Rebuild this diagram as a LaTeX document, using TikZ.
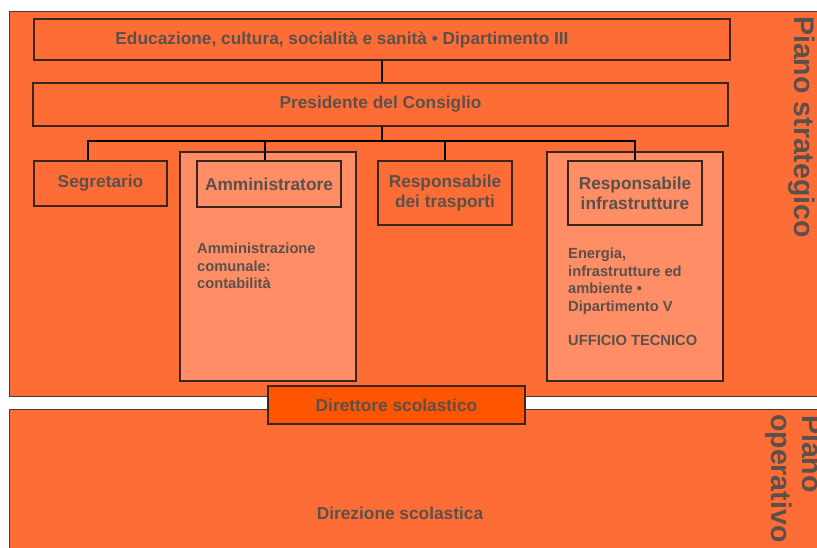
\documentclass[tikz,border=0pt]{standalone}
\usepackage{fontspec}
\setmainfont{Liberation Sans}
\definecolor{panelfill}{HTML}{FF6D37}
\definecolor{lightfill}{HTML}{FF8E66}
\definecolor{headfill}{HTML}{FF5500}
\definecolor{inkgray}{HTML}{5C504A}
\definecolor{edgedark}{HTML}{3A261C}
\begin{document}
\begin{tikzpicture}[x=1pt,y=1pt,
  panel/.style={draw=edgedark!80!gray,line width=0.9pt,fill=panelfill},
  box/.style={draw=edgedark,line width=1.3pt,fill=panelfill,inner sep=0pt,
    text=inkgray,font=\fontsize{17.3}{20}\selectfont\bfseries,align=center},
  lightbox/.style={box,fill=lightfill},
  headbox/.style={box,fill=headfill},
  body/.style={inner sep=0pt,text=inkgray,align=left,
    font=\fontsize{14.7}{17.4}\selectfont\bfseries},
  title/.style={inner sep=0pt,text=inkgray,font=\fontsize{17.3}{20}\selectfont\bfseries},
  side/.style={inner sep=0pt,text=inkgray,rotate=-90,anchor=base west,
    font=\fontsize{28.5}{31}\selectfont\bfseries},
  conn/.style={draw=black,line width=2.2pt}]
\useasboundingbox (0,0) rectangle (817,547);
\clip (0,0) rectangle (817,547);
\fill[white] (0,0) rectangle (817,547);

% the two planes
\draw[panel] (9,536) rectangle (840,151);
\draw[panel] (9,138) rectangle (840,-20);

% upper chain
\node[box,minimum width=696pt,minimum height=41pt] (edu) at (382,507.5) {};
\node[title] (edulabel) at ([xshift=-40pt]edu.center)
  {Educazione, cultura, socialità e sanità • Dipartimento III};
\node[box,minimum width=695pt,minimum height=43pt] (pres) at (380.5,442.5)
  {Presidente del Consiglio};

% staff row
\node[box,minimum width=133pt,minimum height=45pt] (segr) at (100.5,363.5) {Segretario};
\node[lightbox,minimum width=176pt,minimum height=229pt] (ammarea) at (268,280.5) {};
\node[lightbox,minimum width=144pt,minimum height=46pt] (amm) at (269,363) {Amministratore};
\node[box,minimum width=134pt,minimum height=64pt] (trasp) at (445,354)
  {Responsabile\\dei trasporti};
\node[lightbox,minimum width=176pt,minimum height=229pt] (infraarea) at (635,280.5) {};
\node[lightbox,minimum width=134pt,minimum height=64pt] (infra) at (635,354)
  {Responsabile\\infrastrutture};

\node[body,anchor=north west] (ammtext) at (197,304)
  {Amministrazione\\comunale:\\contabilità};
\node[body,anchor=north west] (infratext) at (568,299)
  {Energia,\\infrastrutture ed\\ambiente •\\Dipartimento V\\[17.4pt]UFFICIO TECNICO};

% connectors
\coordinate (bus) at (0,406);
\draw[conn] (edu.south) -- (edu.south |- pres.north);
\draw[conn] (pres.south -| edu.south) -- (edu.south |- bus);
\draw[conn] ([xshift=-12.5pt]segr.north) |- (infra.north |- bus) -- (infra.north);
\draw[conn] ([xshift=-4pt]amm.north) -- ([xshift=-4pt]amm.north |- bus);
\draw[conn] (trasp.north) -- (trasp.north |- bus);

% operational plane
\node[headbox,minimum width=257pt,minimum height=38pt] (dir) at (396.5,142)
  {Direttore scolastico};
\node[title] (direzione) at (400,34) {Direzione scolastica};

% side captions
\node[side] (pianostrat) at (794.5,531) {Piano strategico};
\node[side] (pianoop) at (802,132) {Piano};
\node[side] (operativo) at (771,133) {operativo};
\end{tikzpicture}
\end{document}
